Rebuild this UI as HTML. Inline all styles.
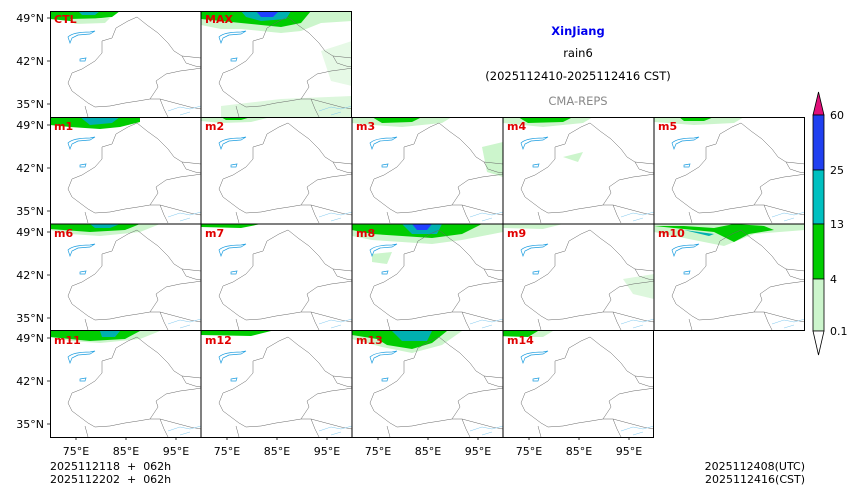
<!DOCTYPE html>
<html><head><meta charset="utf-8"><style>
html,body{margin:0;padding:0;background:#fff}
svg{display:block;font-family:"DejaVu Sans","Liberation Sans",sans-serif}
</style></head><body>
<svg width="860" height="498" viewBox="0 0 860 498" xmlns="http://www.w3.org/2000/svg">
<defs>
<symbol id="map" viewBox="0 0 151 106" width="151" height="106">
<path d="M87,6 L97,14 L108,22 L118,32 L124,40 L132,45 L151,47 M132,45 L136,52 L145,55 L151,56 M87,6 L78,10 L66,17 L62,27 L52,30 L52,42 L45,50 L32,58 L22,62 L18,72 L22,80 L30,86 L38,92 L45,96 L60,95 L75,92 L88,90 L100,88 L110,88 L114,98 L118,106 M100,88 L108,76 L106,70 L116,63 L130,60 L145,58 L151,57 M110,88 L125,92 L140,96 L151,98 M35,95 L38,106" fill="none" stroke="#666" stroke-width="0.5"/>
<path d="M18,26 C22,22 30,21 40,21 L45,20 L40,23 L28,24 L22,27 L20,32 Z M30,48 L36,47 L35,50 L30,50 Z" fill="none" stroke="#1e9ee0" stroke-width="0.7"/>
<path d="M118,100 L130,96 L140,98 L151,95 M130,104 L140,101" fill="none" stroke="#7fc8ee" stroke-width="0.5"/>
</symbol>
</defs>

<g id="panels">
<g transform="translate(50,11)">
<path d="M0,0 H70 L62,6 L40,8 L20,10 L0,8Z" fill="#00cc00"/><path d="M28,0 H50 L45,4 L32,4Z" fill="#00b0b0"/><path d="M20,8 L60,7 L55,12 L25,13Z" fill="#ccf5cc"/><use href="#map"/></g>
<g transform="translate(201,11)">
<path d="M0,0 H151 V10 L120,12 L100,20 L80,22 L60,20 L40,18 L20,18 L0,14Z" fill="#ccf5cc"/><path d="M0,0 H110 L100,12 L80,16 L60,14 L40,12 L20,10 L0,8Z" fill="#00cc00"/><path d="M40,0 H90 L85,8 L60,10 L45,6Z" fill="#00b0b0"/><path d="M55,0 H78 L72,6 L60,6Z" fill="#2040ff"/><path d="M120,40 L151,30 V75 L130,70Z" fill="#e6f9e6"/><path d="M20,95 L80,88 L151,85 V106 H20Z" fill="#ddf7dd"/><use href="#map"/></g>
<g transform="translate(50,117)">
<path d="M0,0 H90 V5 L70,10 L50,12 L20,10 L0,8Z" fill="#00cc00"/><path d="M30,0 H70 L62,6 L40,8Z" fill="#00b0b0"/><use href="#map"/></g>
<g transform="translate(201,117)"><path d="M0,0 H70 L50,5 L20,6 L0,4Z" fill="#ccf5cc"/><path d="M20,0 H50 L40,3 L25,3Z" fill="#00cc00"/><use href="#map"/></g>
<g transform="translate(352,117)"><path d="M0,0 H100 L90,6 L50,10 L20,8 L0,6Z" fill="#ccf5cc"/><path d="M20,0 H70 L60,5 L30,6Z" fill="#00cc00"/><path d="M130,30 L151,25 V60 L135,55Z" fill="#ccf5cc"/><use href="#map"/></g>
<g transform="translate(503,117)"><path d="M0,0 H90 L80,6 L40,10 L0,6Z" fill="#ccf5cc"/><path d="M15,0 H70 L60,5 L25,6Z" fill="#00cc00"/><path d="M60,40 L80,35 L75,45Z" fill="#ccf5cc"/><use href="#map"/></g>
<g transform="translate(654,117)"><path d="M0,0 H90 L80,6 L40,8 L0,5Z" fill="#ccf5cc"/><path d="M25,0 H60 L50,4 L30,4Z" fill="#00cc00"/><use href="#map"/></g>
<g transform="translate(50,224)"><path d="M0,0 H110 L90,8 L50,12 L20,10 L0,6Z" fill="#ccf5cc"/><path d="M0,0 H90 L75,6 L40,8 L0,5Z" fill="#00cc00"/><path d="M40,0 H70 L60,4 L45,4Z" fill="#00b0b0"/><use href="#map"/></g>
<g transform="translate(201,224)"><path d="M0,0 H60 L40,4 L0,3Z" fill="#00cc00"/><use href="#map"/></g>
<g transform="translate(352,224)"><path d="M0,0 H151 V8 L110,16 L80,20 L50,18 L20,16 L0,12Z" fill="#ccf5cc"/><path d="M0,0 H130 L110,10 L80,14 L50,12 L20,10 L0,6Z" fill="#00cc00"/><path d="M50,0 H90 L85,10 L60,10Z" fill="#00b0b0"/><path d="M60,0 H80 L75,6 L65,6Z" fill="#2040ff"/><path d="M20,30 L40,28 L35,40 L20,38Z" fill="#ccf5cc"/><use href="#map"/></g>
<g transform="translate(503,224)"><path d="M0,0 H60 L40,5 L0,4Z" fill="#ccf5cc"/><path d="M120,55 L151,50 V75 L130,70Z" fill="#ddf7dd"/><use href="#map"/></g>
<g transform="translate(654,224)"><path d="M0,0 H151 V6 L100,10 L70,22 L40,16 L0,8Z" fill="#ccf5cc"/><path d="M0,2 L60,8 L80,18 L95,10 L120,6 L110,2 L80,0 L60,4 L30,2Z" fill="#00cc00"/><path d="M30,6 L60,10 L55,12Z" fill="#00b0b0"/><use href="#map"/></g>
<g transform="translate(50,331)"><path d="M0,0 H110 L90,8 L50,12 L20,10 L0,6Z" fill="#ccf5cc"/><path d="M0,0 H90 L75,8 L40,10 L0,6Z" fill="#00cc00"/><path d="M50,0 H70 L65,6 L52,6Z" fill="#00b0b0"/><use href="#map"/></g>
<g transform="translate(201,331)"><path d="M0,0 H70 L50,5 L0,4Z" fill="#00cc00"/><use href="#map"/></g>
<g transform="translate(352,331)"><path d="M0,0 H110 L90,14 L60,22 L30,16 L0,8Z" fill="#ccf5cc"/><path d="M0,0 H95 L80,12 L60,18 L35,14 L25,8 L0,4Z" fill="#00cc00"/><path d="M40,0 H80 L75,10 L50,10Z" fill="#00b0b0"/><use href="#map"/></g>
<g transform="translate(503,331)"><path d="M0,0 H50 L40,6 L0,6Z" fill="#ccf5cc"/><path d="M0,0 H35 L25,6 L0,5Z" fill="#00cc00"/><use href="#map"/></g>
</g>

<g fill="none" stroke="#000" stroke-width="1">
<rect x="50.5" y="11.5" width="301" height="106"/>
<line x1="201" y1="11" x2="201" y2="117"/>
<rect x="50.5" y="117.5" width="754" height="213"/>
<line x1="50" y1="224" x2="805" y2="224"/>
<line x1="201" y1="117" x2="201" y2="331"/><line x1="352" y1="117" x2="352" y2="331"/><line x1="503" y1="117" x2="503" y2="331"/><line x1="654" y1="117" x2="654" y2="331"/>
<rect x="50.5" y="330.5" width="603" height="107"/>
<line x1="201" y1="331" x2="201" y2="437"/><line x1="352" y1="331" x2="352" y2="437"/><line x1="503" y1="331" x2="503" y2="437"/>
</g>

<g fill="#e00000" font-weight="bold" font-size="11">
<text x="54" y="23">CTL</text><text x="205" y="23">MAX</text>
<text x="54" y="130">m1</text><text x="205" y="130">m2</text><text x="356" y="130">m3</text><text x="507" y="130">m4</text><text x="658" y="130">m5</text>
<text x="54" y="237">m6</text><text x="205" y="237">m7</text><text x="356" y="237">m8</text><text x="507" y="237">m9</text><text x="658" y="237">m10</text>
<text x="54" y="344">m11</text><text x="205" y="344">m12</text><text x="356" y="344">m13</text><text x="507" y="344">m14</text>
</g>

<g font-size="11" fill="#000" text-anchor="end">
<text x="44" y="22">49°N</text><text x="44" y="65">42°N</text><text x="44" y="108">35°N</text>
<text x="44" y="129">49°N</text><text x="44" y="172">42°N</text><text x="44" y="215">35°N</text>
<text x="44" y="236">49°N</text><text x="44" y="279">42°N</text><text x="44" y="322">35°N</text>
<text x="44" y="342">49°N</text><text x="44" y="385">42°N</text><text x="44" y="428">35°N</text>
</g>
<g stroke="#000" stroke-width="0.8">
<path d="M47,18H50M47,61H50M47,104H50M47,125H50M47,168H50M47,211H50M47,232H50M47,275H50M47,318H50M47,338H50M47,381H50M47,424H50"/>
<path d="M76,437V440M126,437V440M176,437V440M227,437V440M277,437V440M327,437V440M378,437V440M428,437V440M478,437V440M529,437V440M579,437V440M629,437V440"/>
</g>
<g font-size="11" fill="#000" text-anchor="middle">
<text x="76" y="455">75°E</text><text x="126" y="455">85°E</text><text x="176" y="455">95°E</text>
<text x="227" y="455">75°E</text><text x="277" y="455">85°E</text><text x="327" y="455">95°E</text>
<text x="378" y="455">75°E</text><text x="428" y="455">85°E</text><text x="478" y="455">95°E</text>
<text x="529" y="455">75°E</text><text x="579" y="455">85°E</text><text x="629" y="455">95°E</text>
</g>
<g font-size="11" fill="#000">
<text x="50" y="470">2025112118&#160;&#160;+&#160;&#160;062h</text>
<text x="50" y="483">2025112202&#160;&#160;+&#160;&#160;062h</text>
<text x="805" y="470" text-anchor="end">2025112408(UTC)</text>
<text x="805" y="483" text-anchor="end">2025112416(CST)</text>
</g>

<g text-anchor="middle" font-size="11.5">
<text x="578" y="35" fill="#0000ee" font-weight="bold">XinJiang</text>
<text x="578" y="57" fill="#000">rain6</text>
<text x="578" y="80" fill="#000">(2025112410-2025112416 CST)</text>
<text x="578" y="105" fill="#888">CMA-REPS</text>
</g>

<g stroke="#000" stroke-width="0.8">
<path d="M813,115 L818.5,92 L824,115Z" fill="#e0107a"/>
<rect x="813" y="115" width="11" height="55" fill="#2040f0"/>
<rect x="813" y="170" width="11" height="54" fill="#00c0c0"/>
<rect x="813" y="224" width="11" height="55" fill="#00cc00"/>
<rect x="813" y="279" width="11" height="52" fill="#ccf5cc"/>
<path d="M813,331 L818.5,355 L824,331Z" fill="#fff"/>
</g>
<g font-size="11" fill="#000">
<text x="830" y="119">60</text><text x="830" y="174">25</text><text x="830" y="228">13</text><text x="830" y="283">4</text><text x="830" y="335">0.1</text>
</g>
</svg>
</body></html>
